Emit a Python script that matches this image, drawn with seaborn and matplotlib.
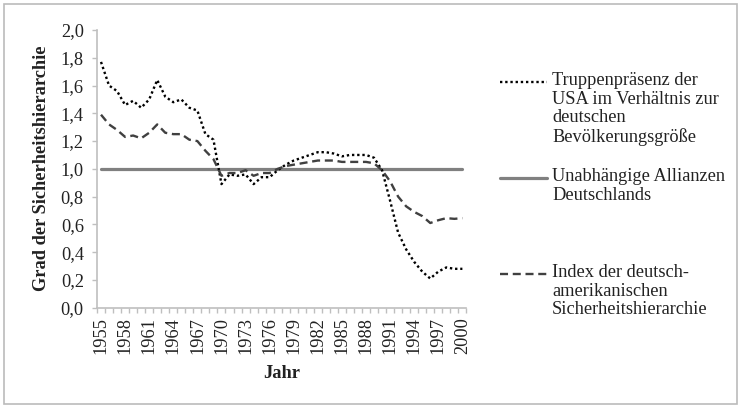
import matplotlib
matplotlib.use('Agg')
import matplotlib.pyplot as plt
from matplotlib.lines import Line2D
from matplotlib.patches import Rectangle
from matplotlib.ticker import FuncFormatter, FixedLocator
import numpy as np
import pandas as pd
import seaborn as sns

# data
jahre = list(range(1955, 2001))
truppen = [1.77, 1.60, 1.56, 1.46, 1.49, 1.44, 1.50, 1.64, 1.52, 1.48,
           1.50, 1.44, 1.42, 1.25, 1.21, 0.89, 0.96, 0.95, 0.96, 0.89,
           0.94, 0.94, 0.99, 1.03, 1.06, 1.08, 1.10, 1.12, 1.12, 1.11,
           1.09, 1.10, 1.10, 1.10, 1.08, 0.99, 0.77, 0.54, 0.42, 0.33,
           0.26, 0.21, 0.26, 0.29, 0.28, 0.28]
allianzen = [1.0, 1.0, 1.0, 1.0, 1.0, 1.0, 1.0, 1.0, 1.0, 1.0,
             1.0, 1.0, 1.0, 1.0, 1.0, 1.0, 1.0, 1.0, 1.0, 1.0,
             1.0, 1.0, 1.0, 1.0, 1.0, 1.0, 1.0, 1.0, 1.0, 1.0,
             1.0, 1.0, 1.0, 1.0, 1.0, 1.0, 1.0, 1.0, 1.0, 1.0,
             1.0, 1.0, 1.0, 1.0, 1.0, 1.0]
index = [1.39, 1.32, 1.28, 1.23, 1.24, 1.22, 1.26, 1.32, 1.26, 1.25,
         1.25, 1.21, 1.20, 1.13, 1.07, 0.95, 0.97, 0.97, 0.99, 0.95,
         0.97, 0.97, 1.00, 1.02, 1.03, 1.04, 1.05, 1.06, 1.06, 1.06,
         1.05, 1.05, 1.05, 1.05, 1.04, 0.99, 0.91, 0.80, 0.73, 0.69,
         0.66, 0.61, 0.63, 0.645, 0.64, 0.645]
labels = ['Truppenpräsenz der\nUSA im Verhältnis zur\ndeutschen\nBevölkerungsgröße',
          'Unabhängige Allianzen\nDeutschlands',
          'Index der deutsch-\namerikanischen\nSicherheitshierarchie']

df = pd.DataFrame({'Jahr': jahre, 'truppen': truppen,
                   'allianzen': allianzen, 'index': index})

sns.set_theme(style='white')
plt.rcParams['font.family'] = ['Liberation Serif', 'DejaVu Serif']
fs = 13.2

W, H = 742, 408
fig = plt.figure(figsize=(W / 100, H / 100), dpi=100)
ax = fig.add_axes([97 / W, 1 - 307.7 / H, 369.4 / W, 277.7 / H])

styles = [dict(color='black', linestyle=(0, (1, 1.2)), linewidth=1.7),
          dict(color='#808080', linestyle='-', linewidth=2.3),
          dict(color='#404040', linestyle=(0, (3.4, 2.0)), linewidth=1.7)]

sns.lineplot(data=df, x='Jahr', y='allianzen', ax=ax, **styles[1])
sns.lineplot(data=df, x='Jahr', y='truppen', ax=ax, **styles[0])
sns.lineplot(data=df, x='Jahr', y='index', ax=ax, **styles[2])

ax.set_xlim(1954.5, 2000.5)
ax.set_ylim(0, 2.0)
ax.set_yticks(np.arange(0, 2.01, 0.2))
ax.yaxis.set_major_formatter(FuncFormatter(lambda v, p: f'{v:.1f}'.replace('.', ',')))
ax.set_xticks(jahre[::3])
ax.set_xticklabels([str(j) for j in jahre[::3]], rotation=90)
ax.xaxis.set_minor_locator(FixedLocator(np.arange(1954.5, 2001, 1)))

for s in ['top', 'right']:
    ax.spines[s].set_visible(False)
for s in ['left', 'bottom']:
    ax.spines[s].set_color('#bfbfbf')
    ax.spines[s].set_linewidth(1.2)

ax.tick_params(axis='y', which='major', left=True, length=3.5, width=1, color='#bfbfbf',
               pad=6, labelsize=fs, labelcolor='#222222')
ax.tick_params(axis='x', which='major', bottom=True, length=0, pad=7,
               labelsize=fs, labelcolor='#222222')
ax.tick_params(axis='x', which='minor', bottom=True, length=3.5, width=1, color='#bfbfbf')

ax.set_xlabel('Jahr', fontsize=fs, fontweight='bold', color='#222222')
ax.set_ylabel('Grad der Sicherheitshierarchie', fontsize=fs, fontweight='bold', color='#222222')
ax.xaxis.set_label_coords(0.5, (307.7 - 373) / 277.7)
ax.yaxis.set_label_coords((42 - 97) / 369.4, (307.7 - 168) / 277.7)
ax.xaxis.label.set_va('center')
ax.yaxis.label.set_va('center')

# legend on the right, handle level with the first text line
handle_y = [82, 178, 274]
for lab, st, hy in zip(labels, styles, handle_y):
    fig.add_artist(Line2D([500 / W, 547 / W], [1 - hy / H, 1 - hy / H],
                          transform=fig.transFigure, **st))
    fig.text(552 / W, 1 - (hy - 10) / H, lab, fontsize=fs, color='#222222',
             va='top', ha='left', linespacing=1.13)

fig.add_artist(Rectangle((4 / W, 4 / H), 733 / W, 400 / H, transform=fig.transFigure,
                         fill=False, edgecolor='#bbbbbb', linewidth=1.2))

fig.savefig('out.png', dpi=100, facecolor='white')
